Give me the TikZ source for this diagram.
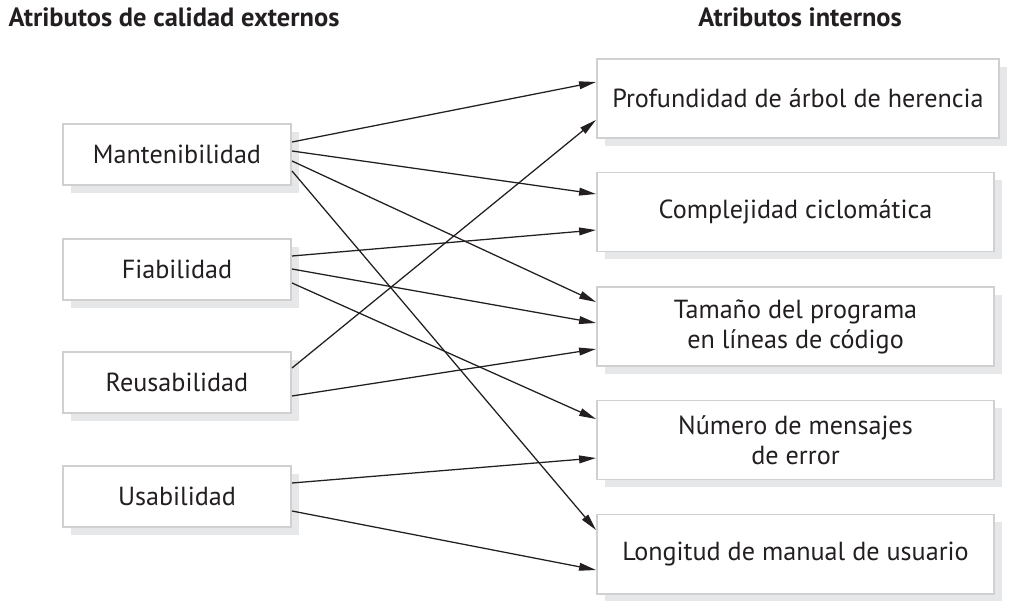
\documentclass[tikz,border=0pt]{standalone}
\usepackage{fontspec}
\setmainfont{PT Sans}
\usetikzlibrary{arrows.meta,shadows,calc}
\definecolor{boxline}{HTML}{D0D0D0}
\definecolor{boxshadow}{HTML}{E6E7E9}
\definecolor{ink}{HTML}{231F20}

\begin{document}
\begin{tikzpicture}[x=0.025cm, y=-0.025cm, >={Triangle[length=12pt,width=5.5pt]},
    ext/.style = {draw=boxline, line width=1.4pt, fill=white, text=ink,
        minimum width=5.7cm, minimum height=1.525cm,
        drop shadow={shadow xshift=0.19cm, shadow yshift=-0.19cm, fill=boxshadow, opacity=1},
        font=\fontsize{18.6}{21.3}\selectfont},
    int/.style = {ext, minimum width=9.925cm, minimum height=1.975cm, align=center},
    title/.style = {anchor=base, text=ink, font=\fontsize{18.8}{21.3}\selectfont\bfseries} ]
        \useasboundingbox (0,0) rectangle (1012,610);

        \node at (174, 27) [title] (10) {Atributos de calidad externos};
        \node at (800, 27) [title] (11) {Atributos internos};

        \node at (177, 154.5) [ext] (1) {Mantenibilidad};
        \node at (177, 269.5) [ext] (2) {Fiabilidad};
        \node at (177, 382.5) [ext] (3) {Reusabilidad};
        \node at (177, 496.5) [ext] (4) {Usabilidad};

        \node at (798, 98.5) [int, minimum width=10.05cm] (5) {Profundidad de árbol de herencia};
        \node at (795.5, 212) [int] (6) {Complejidad ciclomática};
        \node at (795.5, 326.5) [int] (7) {Tamaño del programa\\en líneas de código};
        \node at (795.5, 440) [int] (8) {Número de mensajes\\de error};
        \node at (795.5, 554) [int] (9) {Longitud de manual de usuario};

        \path[->, line width=0.9pt, ink]
        ($(1.east)+(0,-12.5)$) edge ($(5.west)+(0,-16.5)$)
        ($(1.east)+(0,-3.5)$) edge ($(6.west)+(0,-18)$)
        ($(1.east)+(0,6.5)$) edge ($(7.west)+(0,-24.5)$)
        ($(1.east)+(0,16.5)$) edge ($(9.west)+(0,-24)$)
        ($(2.east)+(0,-13.5)$) edge ($(6.west)+(0,18)$)
        ($(2.east)+(0,-0.5)$) edge ($(7.west)+(0,-3.5)$)
        ($(2.east)+(0,13.5)$) edge ($(8.west)+(0,-21)$)
        ($(3.east)+(0,-14.5)$) edge ($(5.west)+(0,21.5)$)
        ($(3.east)+(0,13.5)$) edge ($(7.west)+(0,22.5)$)
        ($(4.east)+(0,-13.5)$) edge ($(8.west)+(0,18)$)
        ($(4.east)+(0,14.5)$) edge ($(9.west)+(0,16)$);
    \end{tikzpicture}
\end{document}
